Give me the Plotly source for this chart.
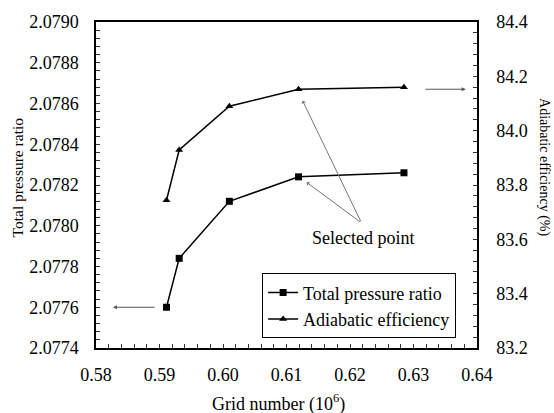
import plotly.graph_objects as go

grid = [0.5911, 0.5931, 0.6010, 0.6119, 0.6285]
pressure_ratio = [2.07760, 2.07784, 2.07812, 2.07824, 2.07826]
efficiency = [83.744, 83.929, 84.090, 84.152, 84.160]

x_ticks = [0.58, 0.59, 0.60, 0.61, 0.62, 0.63, 0.64]
y_ticks = [2.0774, 2.0776, 2.0778, 2.0780, 2.0782, 2.0784, 2.0786, 2.0788, 2.0790]
y2_ticks = [83.2, 83.4, 83.6, 83.8, 84.0, 84.2, 84.4]

FONT = "Liberation Serif"

fig = go.Figure()
fig.add_trace(go.Scatter(
    x=grid, y=pressure_ratio, name="Total pressure ratio", mode="lines+markers",
    line=dict(color="black", width=1.5),
    marker=dict(symbol="square", size=7, color="black"), yaxis="y"))
fig.add_trace(go.Scatter(
    x=grid, y=efficiency, name="Adiabatic efficiency", mode="lines+markers",
    line=dict(color="black", width=1.5),
    marker=dict(symbol="triangle-up", size=7, color="black"), yaxis="y2"))

axis_common = dict(showgrid=False, zeroline=False, ticks="inside", ticklen=4,
                   tickcolor="#333", linecolor="black", linewidth=1.5,
                   tickfont=dict(family=FONT, size=18, color="black"))

fig.update_layout(
    width=554, height=413,
    margin=dict(l=96, r=77, t=12, b=65),
    paper_bgcolor="white", plot_bgcolor="white",
    font=dict(family=FONT, color="black"),
    showlegend=True,
    legend=dict(x=0.436, y=0.229, xanchor="left", yanchor="top",
                bgcolor="white", bordercolor="black", borderwidth=1,
                font=dict(family=FONT, size=18, color="black"),
                itemwidth=30, tracegroupgap=0),
    xaxis=dict(range=[0.58, 0.64], tickvals=x_ticks,
               ticktext=[f"{v:.2f}" for v in x_ticks],
               showline=True, mirror=True,
               minor=dict(dtick=0.002, ticks="inside", ticklen=4, tickcolor="#333"),
               ticklabelstandoff=10,
               **axis_common),
    yaxis=dict(range=[2.0774, 2.0790], tickvals=y_ticks,
               ticktext=[f"{v:.4f}" for v in y_ticks],
               showline=True,
               minor=dict(dtick=0.00004, ticks="inside", ticklen=4, tickcolor="#333"),
               ticklabelstandoff=12,
               **axis_common),
    yaxis2=dict(range=[83.2, 84.4], tickvals=y2_ticks,
                ticktext=[f"{v:.1f}" for v in y2_ticks],
                overlaying="y", side="right", showline=True,
                minor=dict(dtick=0.04, ticks="inside", ticklen=4, tickcolor="#333"),
                ticklabelstandoff=14,
                **axis_common),
)

# axis titles
fig.add_annotation(x=0.479, y=-0.1696, xref="paper", yref="paper",
                   text="Grid number (10<sup>6</sup>)", showarrow=False,
                   xanchor="center", yanchor="middle",
                   font=dict(family=FONT, size=18, color="black"))
fig.add_annotation(x=-0.2055, y=0.5223, xref="paper", yref="paper",
                   text="Total pressure ratio", showarrow=False, textangle=-90,
                   xanchor="center", yanchor="middle",
                   font=dict(family=FONT, size=15.5, color="black"))
fig.add_annotation(x=1.1759, y=0.555, xref="paper", yref="paper",
                   text="Adiabatic efficiency (%)", showarrow=False, textangle=90,
                   xanchor="center", yanchor="middle",
                   font=dict(family=FONT, size=14, color="black"))

arrow = dict(showarrow=True, arrowhead=2, arrowsize=0.8, arrowwidth=1,
             arrowcolor="#555", text="")
fig.add_annotation(x=0.58268, y=2.0776, ax=0.58945, ay=2.0776,
                   xref="x", yref="y", axref="x", ayref="y", **arrow)
fig.add_annotation(x=0.63822, y=84.1525, ax=0.63165, ay=84.1525,
                   xref="x", yref="y2", axref="x", ayref="y2", **arrow)
fig.add_annotation(x=0.61318, y=2.078213, ax=0.62181, ay=2.078014,
                   xref="x", yref="y", axref="x", ayref="y",
                   **{**arrow, "arrowhead": 1, "arrowcolor": "#777"})
fig.add_annotation(x=0.61255, y=2.078613, ax=0.62181, ay=2.078014,
                   xref="x", yref="y", axref="x", ayref="y",
                   **{**arrow, "arrowhead": 1, "arrowcolor": "#777"})
fig.add_annotation(x=0.6220, y=2.07794, xref="x", yref="y", text="Selected point",
                   showarrow=False, font=dict(family=FONT, size=18, color="black"))

fig.write_html("out.html")
